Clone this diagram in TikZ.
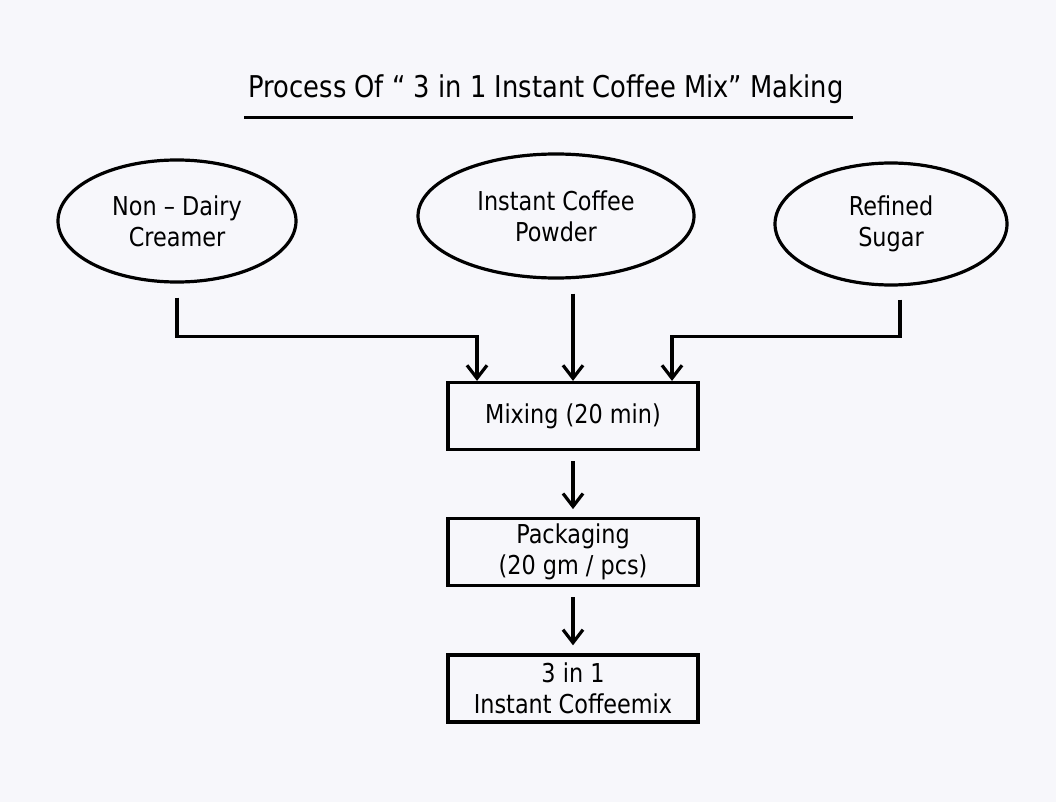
\documentclass[tikz,border=0pt]{standalone}
\usepackage{fontspec}
\setmainfont[FakeStretch=0.86]{DejaVu Sans}
\usetikzlibrary{positioning, arrows.meta, shapes.geometric}
\definecolor{paper}{RGB}{247,247,251}

\begin{document}
\begin{tikzpicture}[x=1pt, y=-1pt, node distance=66pt,
  every node/.style={font=\fontsize{26}{31}\selectfont, align=center},
  source/.style={ellipse, draw, line width=3.2pt, inner sep=0pt},
  stepbox/.style={rectangle, draw, line width=3.2pt, minimum width=250pt, minimum height=67pt, inner sep=0pt},
  flow/.style={-{Straight Barb[length=13pt, width=20pt]}, line width=3.2pt}]
\fill[paper] (0,0) rectangle (1056,802);
\useasboundingbox (0,0) rectangle (1056,802);
% title
\node[font=\fontsize{30}{36}\selectfont] (title) at (546,89) {Process Of “ 3 in 1 Instant Coffee Mix” Making};
\draw[line width=3pt] (244,118) -- (853,118);
% ingredients
\node[source, minimum width=238pt, minimum height=122pt] (creamer) at (177,221) {Non – Dairy\\Creamer};
\node[source, minimum width=276pt, minimum height=124pt] (coffee) at (556,216) {Instant Coffee\\Powder};
\node[source, minimum width=232pt, minimum height=122pt] (sugar) at (891,224) {Refined\\Sugar};
% process steps
\node[stepbox] (mixing) at (573,416) {Mixing (20 min)};
\node[stepbox, below=of mixing] (packing) {Packaging\\(20 gm / pcs)};
\node[stepbox, below=of packing] (product) {3 in 1\\Instant Coffeemix};
% connectors
\draw[flow] ([yshift=-14pt]creamer.south) -- ++(0,39) -| ([xshift=-96pt]mixing.north);
\draw[flow] ([yshift=-14pt]coffee.south -| mixing.north) -- (mixing.north);
\draw[flow] ([xshift=9pt, yshift=-13pt]sugar.south) -- ++(0,37) -| ([xshift=99pt]mixing.north);
\draw[flow] ([yshift=-10pt]mixing.south) -- ([yshift=8pt]packing.north);
\draw[flow] ([yshift=-10pt]packing.south) -- ([yshift=8pt]product.north);
\end{tikzpicture}
\end{document}
